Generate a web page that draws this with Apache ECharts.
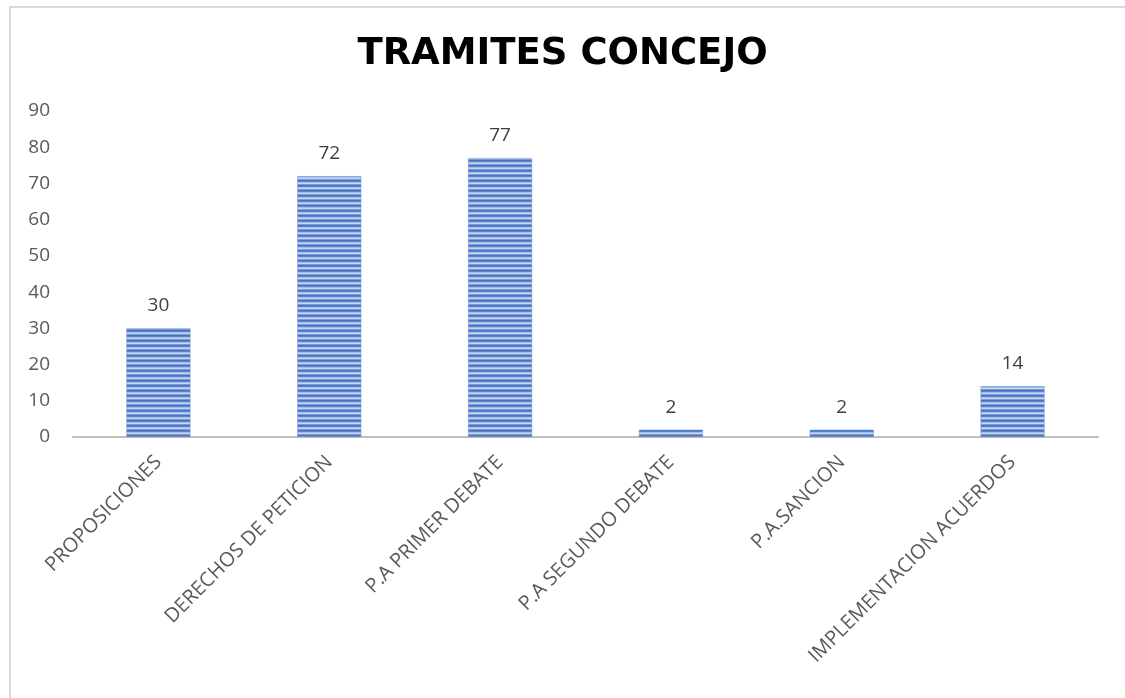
<!DOCTYPE html>
<html>
<head>
<meta charset="utf-8">
<script src="https://cdn.jsdelivr.net/npm/echarts@6/dist/echarts.min.js"></script>
<style>
html,body{margin:0;padding:0;background:#fff;}
#chart{width:1125px;height:698px;}
</style>
</head>
<body>
<div id="chart"></div>
<script>
const categories = ["PROPOSICIONES", "DERECHOS DE PETICION", "P.A PRIMER DEBATE", "P.A SEGUNDO DEBATE", "P.A.SANCION", "IMPLEMENTACION ACUERDOS"];
const values = [30, 72, 77, 2, 2, 14];
const yTicks = { min: 0, max: 90, interval: 10 };
const titleText = "TRAMITES CONCEJO";

// striped fill pattern
const pc = document.createElement('canvas');
pc.width = 8; pc.height = 5;
const pctx = pc.getContext('2d');
const rows = ['#4472c4', '#5a83cc', '#a7bce6', '#c9d6f0', '#7b9bd8'];
rows.forEach((c, i) => { pctx.fillStyle = c; pctx.fillRect(0, i, 8, 1); });

const chart = echarts.init(document.getElementById('chart'));
chart.setOption({
  backgroundColor: '#ffffff',
  animation: false,
  title: {
    text: titleText,
    left: 'center',
    top: 31,
    textStyle: { fontFamily: 'DejaVu Sans', fontWeight: 'bold', fontSize: 37, color: '#000000' }
  },
  graphic: [{
    type: 'rect',
    shape: { x: 10, y: 7, width: 1130, height: 700 },
    style: { fill: 'none', stroke: '#d9d9d9', lineWidth: 2 },
    silent: true
  }],
  grid: { left: 73, right: 27, top: 111, bottom: 261, containLabel: false },
  xAxis: {
    type: 'category',
    data: categories,
    axisLine: { lineStyle: { color: '#bfbfbf', width: 2 } },
    axisTick: { show: false },
    axisLabel: { rotate: 45, fontFamily: 'Open Sans', fontSize: 20, color: '#595959', margin: 22, interval: 0 }
  },
  yAxis: {
    type: 'value',
    min: yTicks.min, max: yTicks.max, interval: yTicks.interval,
    axisLine: { show: false },
    axisTick: { show: false },
    splitLine: { show: false },
    axisLabel: { fontFamily: 'Open Sans', fontSize: 19, color: '#595959', margin: 23 }
  },
  series: [{
    type: 'bar',
    data: values,
    barWidth: 64,
    itemStyle: { color: { image: pc, repeat: 'repeat' }, borderColor: '#6f93d6', borderWidth: 0.5 },
    label: { show: true, position: 'top', distance: 13, fontFamily: 'Open Sans', fontSize: 19, color: '#404040' }
  }]
});
</script>
</body>
</html>
